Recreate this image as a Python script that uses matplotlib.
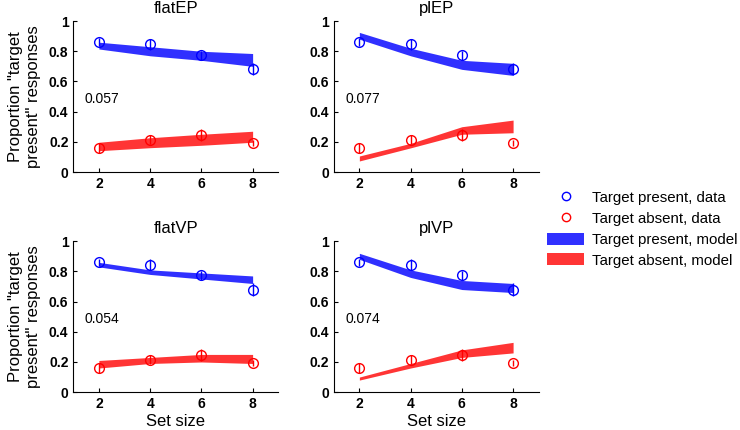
import matplotlib
matplotlib.use("Agg")
import matplotlib.pyplot as plt
from matplotlib.lines import Line2D
from matplotlib.patches import Patch

plt.rcParams['font.family'] = ['Liberation Sans', 'DejaVu Sans']

set_sizes = [2, 4, 6, 8]
titles = ["flatEP", "plEP", "flatVP", "plVP"]
fit_values = ["0.057", "0.077", "0.054", "0.074"]

# data (same subjects in every panel)
present_data = [0.86, 0.845, 0.775, 0.68]
present_err = [0.025, 0.035, 0.03, 0.04]
absent_data = [0.16, 0.215, 0.245, 0.195]
absent_err = [0.035, 0.03, 0.04, 0.02]

# model bands: lower / upper edges per panel
present_lo = [[0.815, 0.77, 0.74, 0.70],
              [0.88, 0.77, 0.68, 0.64],
              [0.83, 0.78, 0.75, 0.72],
              [0.88, 0.76, 0.68, 0.66]]
present_hi = [[0.86, 0.83, 0.80, 0.785],
              [0.925, 0.82, 0.74, 0.72],
              [0.86, 0.81, 0.79, 0.77],
              [0.92, 0.81, 0.74, 0.72]]
absent_lo = [[0.141, 0.161, 0.177, 0.197],
             [0.073, 0.16, 0.25, 0.26],
             [0.16, 0.19, 0.20, 0.19],
             [0.08, 0.16, 0.23, 0.26]]
absent_hi = [[0.197, 0.227, 0.25, 0.27],
             [0.106, 0.19, 0.30, 0.344],
             [0.21, 0.23, 0.25, 0.25],
             [0.10, 0.19, 0.28, 0.33]]

blue_band = '#3030ff'
red_band = '#ff3535'

fig = plt.figure(figsize=(7.4, 4.3), dpi=100)
positions = [[0.099, 0.600, 0.277, 0.351],
             [0.451, 0.600, 0.277, 0.351],
             [0.099, 0.088, 0.277, 0.351],
             [0.451, 0.088, 0.277, 0.351]]

for i, pos in enumerate(positions):
    ax = fig.add_axes(pos)
    ax.fill_between(set_sizes, present_lo[i], present_hi[i], color=blue_band, lw=0)
    ax.fill_between(set_sizes, absent_lo[i], absent_hi[i], color=red_band, lw=0)
    ax.errorbar(set_sizes, present_data, yerr=present_err, fmt='o', color='blue',
                mfc='none', ms=7, mew=1, elinewidth=1, capsize=0)
    ax.errorbar(set_sizes, absent_data, yerr=absent_err, fmt='o', color='red',
                mfc='none', ms=7, mew=1, elinewidth=1, capsize=0)
    ax.text(1.45, 0.46, fit_values[i], fontsize=10)
    ax.set_xlim(1, 9)
    ax.set_ylim(0, 1)
    ax.set_xticks(set_sizes)
    ax.set_yticks([0, 0.2, 0.4, 0.6, 0.8, 1])
    ax.set_yticklabels(["0", "0.2", "0.4", "0.6", "0.8", "1"])
    ax.spines['top'].set_visible(False)
    ax.spines['right'].set_visible(False)
    ax.tick_params(direction='in', length=3, labelsize=10, width=0.8)
    for lab in ax.get_xticklabels() + ax.get_yticklabels():
        lab.set_fontweight('bold')
    ax.set_title(titles[i], fontsize=12, pad=6)
    if i % 2 == 0:
        ax.set_ylabel('Proportion "target\npresent" responses', fontsize=12, labelpad=6)
    if i >= 2:
        ax.set_xlabel('Set size', fontsize=12, labelpad=2)

handles = [
    Line2D([], [], ls='none', marker='o', mfc='none', mec='blue', ms=6, mew=1),
    Line2D([], [], ls='none', marker='o', mfc='none', mec='red', ms=6, mew=1),
    Patch(color=blue_band, lw=0),
    Patch(color=red_band, lw=0),
]
labels = ["Target present, data", "Target absent, data",
          "Target present, model", "Target absent, model"]
fig.legend(handles, labels, loc='center left', bbox_to_anchor=(0.739, 0.467),
           frameon=False, fontsize=10.8, handlelength=2.5, handleheight=0.85,
           handletextpad=0.5, labelspacing=0.45, borderpad=0, borderaxespad=0)

fig.savefig("out.png", dpi=100)
